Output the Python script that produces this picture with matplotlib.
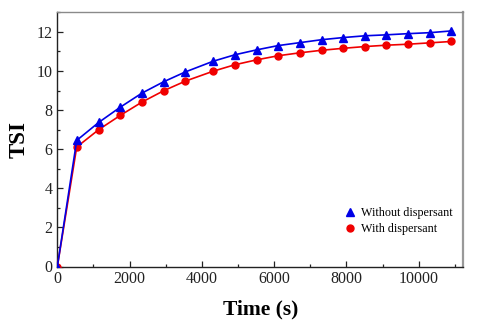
import matplotlib
matplotlib.use("Agg")
import matplotlib.pyplot as plt
from matplotlib.ticker import MultipleLocator

plt.rcParams['font.family'] = ['Liberation Serif', 'DejaVu Serif']

time_s = [0, 536, 1145, 1742, 2342, 2942, 3539, 4313, 4913, 5513, 6110,
          6710, 7310, 7907, 8507, 9107, 9704, 10304, 10904]
tsi_without = [0, 6.45, 7.37, 8.15, 8.87, 9.45, 9.95, 10.50, 10.83, 11.08, 11.30,
               11.45, 11.60, 11.71, 11.80, 11.85, 11.91, 11.96, 12.05]
tsi_with = [0, 6.11, 7.00, 7.73, 8.41, 8.99, 9.48, 9.99, 10.32, 10.57, 10.78,
            10.93, 11.06, 11.16, 11.25, 11.32, 11.37, 11.44, 11.51]

fig = plt.figure(figsize=(4.86, 3.25), dpi=100)
ax = fig.add_axes([0.118, 0.18, 0.835, 0.782])

ax.plot(time_s, tsi_with, color='#f00000', lw=1.2, marker='o', ms=5,
        label='With dispersant', zorder=3)
ax.plot(time_s, tsi_without, color='#0000e6', lw=1.2, marker='^', ms=5.5,
        label='Without dispersant', zorder=4)

ax.set_xlim(0, 11230)
ax.set_ylim(0, 13)
ax.xaxis.set_major_locator(MultipleLocator(2000))
ax.xaxis.set_minor_locator(MultipleLocator(1000))
ax.yaxis.set_major_locator(MultipleLocator(2))
ax.yaxis.set_minor_locator(MultipleLocator(1))
ax.tick_params(which='both', direction='in', top=False, right=False,
               labelsize=11.5, colors='#222222')
ax.tick_params(which='major', length=4, width=0.9)
ax.tick_params(which='minor', length=2.5, width=0.9)

for side in ('left', 'bottom'):
    ax.spines[side].set_color('#222222')
    ax.spines[side].set_linewidth(1.0)
ax.spines['top'].set_color('#8a8a8a')
ax.spines['top'].set_linewidth(1.0)
ax.spines['right'].set_color('#999999')
ax.spines['right'].set_linewidth(1.6)

ax.set_xlabel('Time (s)', fontsize=15.5, fontweight='bold', labelpad=9)
ax.set_ylabel('TSI', fontsize=16.5, fontweight='bold', labelpad=5)

handles, labels = ax.get_legend_handles_labels()
leg = ax.legend(handles[::-1], labels[::-1], loc='lower right',
                bbox_to_anchor=(1.0, 0.08), frameon=False, fontsize=8.7,
                handlelength=0.9, handletextpad=0.4, labelspacing=0.35)
for h in leg.legend_handles:
    h.set_linestyle('None')

fig.savefig('out.png', dpi=100)
